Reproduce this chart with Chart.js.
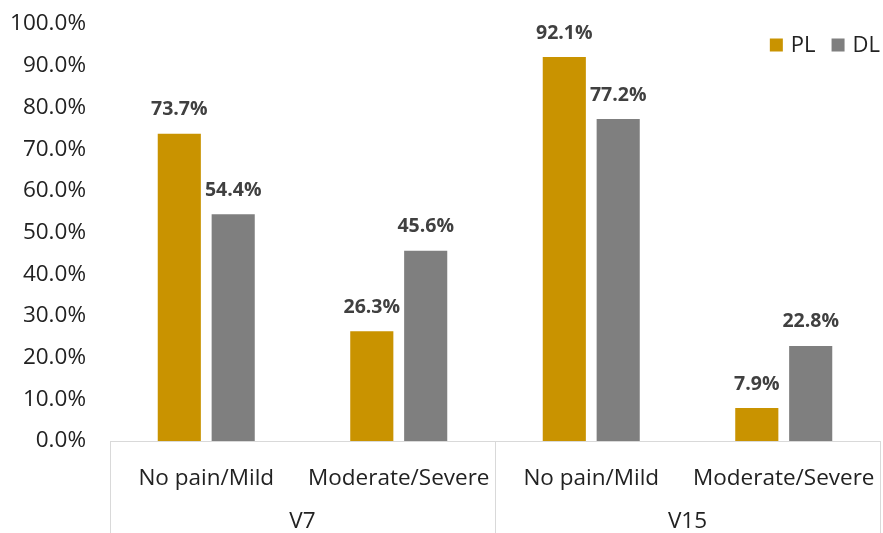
<!DOCTYPE html>
<html>
<head>
<meta charset="utf-8">
<script src="https://cdn.jsdelivr.net/npm/chart.js@4/dist/chart.umd.min.js"></script>
<style>
  html, body { margin: 0; padding: 0; background: #fff; }
  #wrap { width: 883px; height: 533px; }
</style>
</head>
<body>
<div id="wrap"><canvas id="chart"></canvas></div>
<script>
// data
const categories = ['No pain/Mild', 'Moderate/Severe', 'No pain/Mild', 'Moderate/Severe'];
const groups = ['V7', 'V15'];
const plValues = [73.7, 26.3, 92.1, 7.9];
const dlValues = [54.4, 45.6, 77.2, 22.8];
const seriesNames = ['PL', 'DL'];
const seriesColors = ['#C99300', '#7F7F7F'];

const font = '"Open Sans", "DejaVu Sans", sans-serif';

// value labels above bars
const valueLabels = {
  id: 'valueLabels',
  afterDatasetsDraw(chart) {
    const ctx = chart.ctx;
    ctx.save();
    ctx.font = 'bold 19.5px ' + font;
    ctx.fillStyle = '#404040';
    ctx.textAlign = 'center';
    ctx.textBaseline = 'middle';
    chart.data.datasets.forEach((ds, i) => {
      chart.getDatasetMeta(i).data.forEach((bar, j) => {
        ctx.fillText(ds.data[j].toFixed(1) + '%', bar.x, bar.y - 24);
      });
    });
    ctx.restore();
  }
};

// axis line, group separators and legend in the top right corner
const decorations = {
  id: 'decorations',
  afterDraw(chart) {
    const ctx = chart.ctx;
    const a = chart.chartArea;
    const mid = (a.left + a.right) / 2;
    ctx.save();
    ctx.strokeStyle = '#d9d9d9';
    ctx.lineWidth = 1;
    ctx.beginPath();
    ctx.moveTo(a.left, Math.round(a.bottom) + 0.5);
    ctx.lineTo(a.right, Math.round(a.bottom) + 0.5);
    [a.left, mid, a.right].forEach(x => {
      ctx.moveTo(Math.round(x) + 0.5, a.bottom);
      ctx.lineTo(Math.round(x) + 0.5, chart.height);
    });
    ctx.stroke();

    // legend
    ctx.font = '22px ' + font;
    ctx.textBaseline = 'middle';
    ctx.textAlign = 'left';
    let x = a.right;
    const y = 45;
    const items = chart.data.datasets.map(ds => ({ label: ds.label, color: ds.backgroundColor }));
    for (let i = items.length - 1; i >= 0; i--) {
      const w = ctx.measureText(items[i].label).width;
      x -= w;
      ctx.fillStyle = '#222';
      ctx.fillText(items[i].label, x, y + 1);
      x -= 8 + 13;
      ctx.fillStyle = items[i].color;
      ctx.fillRect(x, y - 6.5, 13, 13);
      x -= 16;
    }
    ctx.restore();
  }
};

new Chart(document.getElementById('chart'), {
  type: 'bar',
  data: {
    labels: categories,
    datasets: [
      { label: seriesNames[0], data: plValues, backgroundColor: seriesColors[0] },
      { label: seriesNames[1], data: dlValues, backgroundColor: seriesColors[1] }
    ]
  },
  options: {
    responsive: true,
    maintainAspectRatio: false,
    animation: false,
    categoryPercentage: 0.56,
    barPercentage: 0.8,
    layout: { padding: { top: 24, right: 3, left: 12, bottom: 0 } },
    plugins: {
      legend: { display: false },
      tooltip: { enabled: false }
    },
    scales: {
      x: {
        grid: { display: false, drawTicks: false },
        border: { display: false },
        ticks: { color: '#222', font: { family: font, size: 22.5 }, padding: 24 },
        afterFit: s => { s.height = 67; s.paddingLeft = 0; s.paddingRight = 0; }
      },
      x2: {
        type: 'category',
        labels: groups,
        position: 'bottom',
        offset: true,
        grid: { display: false, drawTicks: false },
        border: { display: false },
        ticks: { color: '#222', font: { family: font, size: 22.5 }, padding: 0 },
        afterFit: s => { s.height = 25; s.paddingLeft = 0; s.paddingRight = 0; }
      },
      y: {
        min: 0,
        max: 100,
        grid: { display: false, drawTicks: false },
        border: { display: false },
        ticks: {
          stepSize: 10,
          color: '#222',
          padding: 24,
          font: { family: font, size: 22.5 },
          callback: v => v.toFixed(1) + '%'
        },
        afterFit: s => { s.width = 98; s.paddingTop = 0; s.paddingBottom = 0; }
      }
    }
  },
  plugins: [valueLabels, decorations]
});
</script>
</body>
</html>
